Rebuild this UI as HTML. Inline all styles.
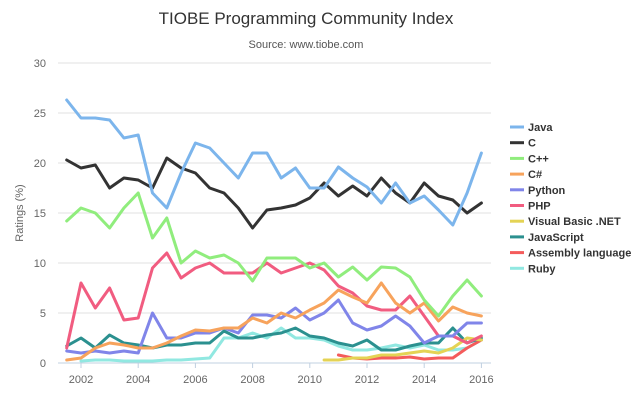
<!DOCTYPE html>
<html><head><meta charset="utf-8"><style>
body{margin:0;background:#fff;font-family:"Liberation Sans",sans-serif}
svg{display:block}
</style></head><body>
<svg id="chart" width="640" height="404">
<rect width="640" height="404" fill="#fff"/>
<text x="306" y="24" text-anchor="middle" font-size="17" fill="#333">TIOBE Programming Community Index</text>
<text x="306" y="48" text-anchor="middle" font-size="11" fill="#555">Source: www.tiobe.com</text>
<text transform="translate(23,213) rotate(-90)" text-anchor="middle" font-size="11" fill="#666">Ratings (%)</text>
<g id="grid"></g><g id="series"></g><g id="legend"></g>
</svg>
<script>
const years = [2001.5,2002,2002.5,2003,2003.5,2004,2004.5,2005,2005.5,2006,2006.5,2007,2007.5,2008,2008.5,2009,2009.5,2010,2010.5,2011,2011.5,2012,2012.5,2013,2013.5,2014,2014.5,2015,2015.5,2016];
const yTicks = [0,5,10,15,20,25,30];
const xTicks = [2002,2004,2006,2008,2010,2012,2014,2016];
const seriesNames = ["Java","C","C++","C#","Python","PHP","Visual Basic .NET","JavaScript","Assembly language","Ruby"];
const seriesColors = ["#7cb5ec","#333333","#90ed7d","#f7a35c","#8085e9","#f15c80","#e4d354","#2b908f","#f45b5b","#91e8e1"];
const javaVals = [26.3,24.5,24.5,24.3,22.5,22.8,17,15.5,19,22,21.5,20,18.5,21,21,18.5,19.5,17.5,17.5,19.6,18.5,17.6,16,18,16,16.7,15.3,13.8,17,21];
const cVals = [20.3,19.5,19.8,17.5,18.5,18.3,17.5,20.5,19.5,19,17.5,17,15.5,13.5,15.3,15.5,15.8,16.5,18,16.7,17.7,16.7,18.5,17,16,18,16.7,16.3,15,16];
const cppVals = [14.2,15.5,15,13.5,15.5,17,12.5,14.5,10,11.2,10.5,10.8,10,8.2,10.5,10.5,10.5,9.5,10,8.6,9.6,8.3,9.6,9.5,8.6,6.3,4.7,6.7,8.3,6.7];
const csVals = [0.3,0.5,1.5,2,1.8,1.5,1.5,2,2.7,3.3,3.2,3.5,3.5,4.5,4,5,4.5,5.3,6,7.3,6.6,6,8,6,5,6,4.2,5.6,5,4.7];
const pyVals = [1.2,1,1.2,1,1.2,1,5,2.5,2.5,3,3,3.5,3,4.8,4.8,4.5,5.5,4.3,5,6.3,4,3.3,3.7,4.7,3.7,2,2.7,2.7,4,4];
const phpVals = [1.5,8,5.5,7.5,4.3,4.5,9.5,11,8.5,9.5,10,9,9,9,10,9,9.5,10,9.3,7.7,7,5.7,5.3,5.3,6.7,4.7,2.7,2.7,2,2.7];
const vbVals = [null,null,null,null,null,null,null,null,null,null,null,null,null,null,null,null,null,null,0.3,0.3,0.5,0.5,0.8,0.8,1,1.2,1,1.5,2.5,2.3];
const jsVals = [1.7,2.5,1.5,2.8,2,1.8,1.5,1.8,1.8,2,2,3.2,2.5,2.5,2.8,3,3.5,2.7,2.5,2,1.7,2.3,1.3,1.3,1.7,2,2,3.5,2,2.5];
const asmVals = [null,null,null,null,null,null,null,null,null,null,null,null,null,null,null,null,null,null,null,0.8,0.5,0.4,0.5,0.5,0.6,0.4,0.5,0.5,1.5,2.3];
const rubyVals = [null,0.2,0.3,0.3,0.2,0.2,0.2,0.3,0.3,0.4,0.5,2.5,2.5,3,2.5,3.5,2.5,2.5,2.3,1.7,1.3,1.3,1.5,1.8,1.5,1.8,1.3,1.3,1.5,2.3];
const allVals = [javaVals,cVals,cppVals,csVals,pyVals,phpVals,vbVals,jsVals,asmVals,rubyVals];

const NS="http://www.w3.org/2000/svg";
const x = v => 81 + (v-2002)*28.6;
const y = v => 363 - v*10;
function mk(tag, attrs, parent){const e=document.createElementNS(NS,tag);for(const k in attrs)e.setAttribute(k,attrs[k]);parent.appendChild(e);return e;}
const grid=document.getElementById('grid');
yTicks.forEach(t=>{
  const l=mk('line',{x1:58,x2:491,y1:y(t),y2:y(t),stroke:t===0?'#c0d0e0':'#e0e0e0','stroke-width':1},grid);
  
  
  const tx=mk('text',{x:46,y:y(t)+4,'text-anchor':'end','font-size':11,fill:'#666'},grid);
  tx.textContent=t;
  
  
});
xTicks.forEach(t=>{
  const l=mk('line',{x1:x(t),x2:x(t),y1:363,y2:368,stroke:'#c0d0e0'},grid);
  
  
  const tx=mk('text',{x:x(t),y:383,'text-anchor':'middle','font-size':11,fill:'#666'},grid);
  tx.textContent=t;
  
  
});
const sg=document.getElementById('series');
for(let s=allVals.length-1;s>=0;s--){
  let d='',pen=false;
  allVals[s].forEach((v,i)=>{
    if(v===null){pen=false;return;}
    d+=(pen?'L':'M')+x(years[i]).toFixed(1)+','+y(v).toFixed(1);pen=true;
  });
  const p=mk('path',{d:d,fill:'none',stroke:seriesColors[s],'stroke-width':3,'stroke-linejoin':'round','stroke-linecap':'round'},sg);
  
  
}
const lg=document.getElementById('legend');
seriesNames.forEach((n,i)=>{
  const g=mk('g',{},lg);
  
  
  const yy=127+i*15.7;
  mk('line',{x1:510,x2:524,y1:yy,y2:yy,stroke:seriesColors[i],'stroke-width':3},g);
  const t=mk('text',{x:528,y:yy+4,'font-size':11,'font-weight':'bold',fill:'#333'},g);
  t.textContent=n;
});
</script>
</body></html>
